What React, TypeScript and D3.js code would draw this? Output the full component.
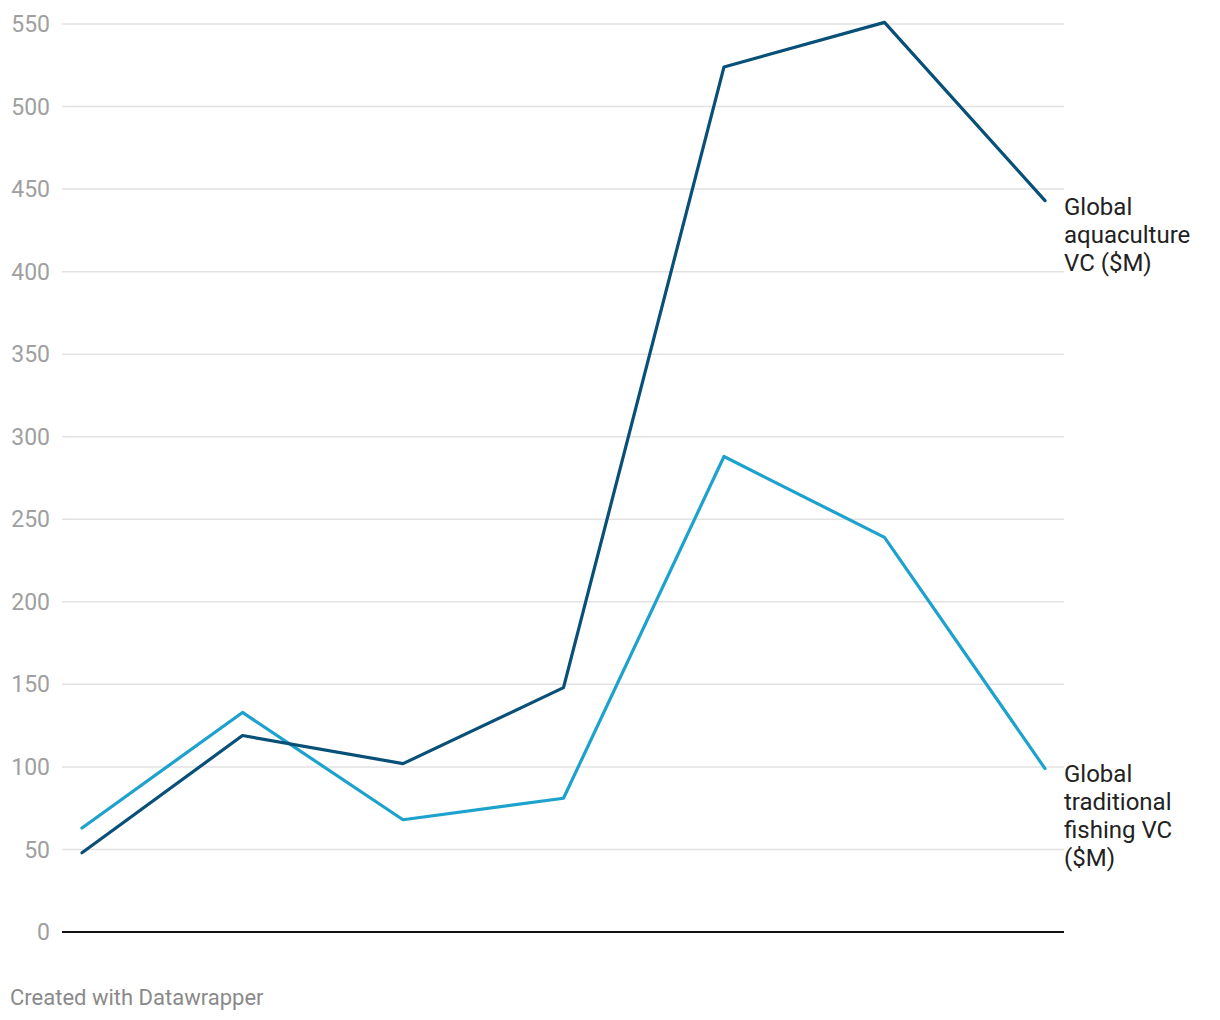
import React from "react";
import * as d3 from "d3";

const periods = ["P1", "P2", "P3", "P4", "P5", "P6", "P7"];
const aquaculture = [48, 119, 102, 148, 524, 551, 443];
const traditional = [63, 133, 68, 81, 288, 239, 99];
const yTicks = [0, 50, 100, 150, 200, 250, 300, 350, 400, 450, 500, 550];
const aquaLabel = ["Global", "aquaculture", "VC ($M)"];
const tradLabel = ["Global", "traditional", "fishing VC", "($M)"];

const W = 1220;
const H = 1020;

export default function App() {
  const x = d3.scalePoint<string>().domain(periods).range([82, 1045]);
  const y = d3.scaleLinear().domain([0, 550]).range([932, 24]);
  const line = d3
    .line<number>()
    .x((_, i) => x(periods[i]) as number)
    .y((d) => y(d));

  const font = "Roboto, 'Noto Sans', sans-serif";
  const lastAqua = y(aquaculture[aquaculture.length - 1]);
  const lastTrad = y(traditional[traditional.length - 1]);

  return (
    <svg
      width={W}
      height={H}
      style={{ position: "absolute", left: 0, top: 0, background: "#fff" }}
      fontFamily={font}
    >
      {yTicks.map((t) => (
        <g key={t}>
          {t !== 0 && (
            <line x1={62} x2={1064} y1={y(t)} y2={y(t)} stroke="#e2e2e2" strokeWidth={1.5} />
          )}
          <text
            x={50}
            y={y(t)}
            dy="0.35em"
            textAnchor="end"
            fontSize={23}
            fill="#a0a0a0"
          >
            {t}
          </text>
        </g>
      ))}
      <line x1={62} x2={1064} y1={y(0)} y2={y(0)} stroke="#111" strokeWidth={2} />
      <path
        d={line(traditional) || ""}
        fill="none"
        stroke="#1ca2cd"
        strokeWidth={3.2}
        strokeLinejoin="round"
        strokeLinecap="round"
      />
      <path
        d={line(aquaculture) || ""}
        fill="none"
        stroke="#085078"
        strokeWidth={3.2}
        strokeLinejoin="round"
        strokeLinecap="round"
      />
      <text x={1064} y={lastAqua + 14} fontSize={24} fill="#222">
        {aquaLabel.map((s, i) => (
          <tspan key={i} x={1064} dy={i === 0 ? 0 : 28}>
            {s}
          </tspan>
        ))}
      </text>
      <text x={1064} y={lastTrad + 13} fontSize={24} fill="#222">
        {tradLabel.map((s, i) => (
          <tspan key={i} x={1064} dy={i === 0 ? 0 : 28}>
            {s}
          </tspan>
        ))}
      </text>
      <text x={10} y={1005} fontSize={22} fill="#8a8a8a">
        Created with Datawrapper
      </text>
    </svg>
  );
}
